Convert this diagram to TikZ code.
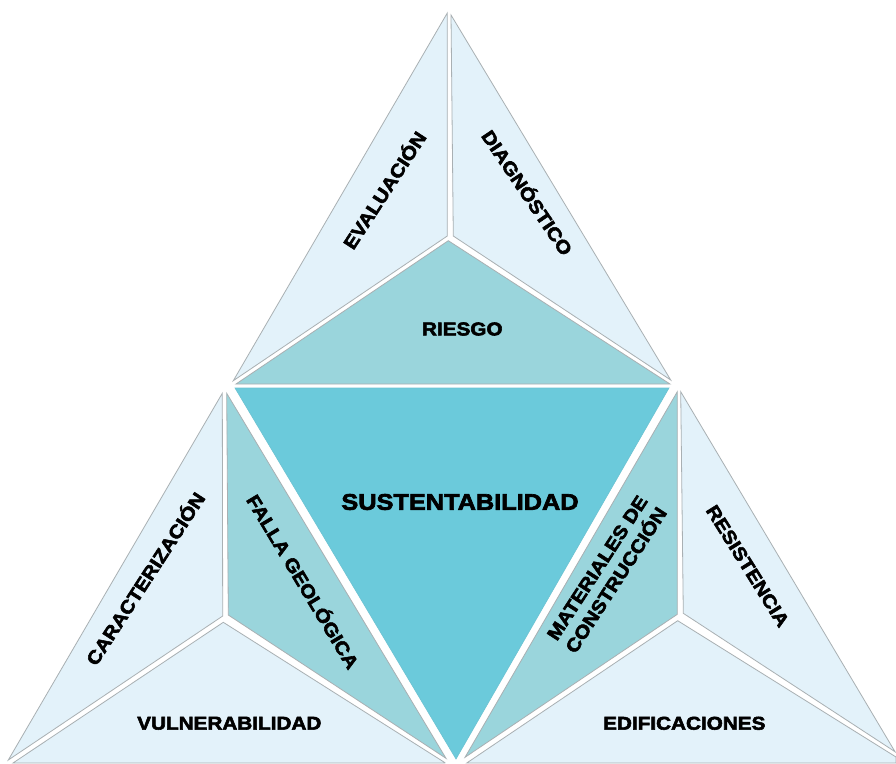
\documentclass[tikz,border=0pt]{standalone}
\usepackage{fontspec}
\setmainfont{Liberation Sans}
\newfontfamily\heavy{Liberation Sans Bold}[FakeBold=3,FakeStretch=1.12]
\definecolor{pale}{HTML}{E3F2FA}
\definecolor{mid}{HTML}{9AD5DC}
\definecolor{core}{HTML}{6BCADB}
\definecolor{edge}{HTML}{A9B0B3}
\tikzset{
  pane/.style={draw=edge,line width=0.8pt,line join=miter},
  palepane/.style={pane,fill=pale},
  midpane/.style={pane,fill=mid},
  corepane/.style={draw=core!90!gray,line width=0.6pt,fill=core},
  lbl/.style={font=\heavy\fontsize{18.5}{21}\selectfont,text=black,inner sep=0pt,align=center},
  biglbl/.style={font=\heavy\fontsize{22.6}{25}\selectfont,text=black,inner sep=0pt}
}
\begin{document}
\begin{tikzpicture}[x=1pt,y=-1pt]
\useasboundingbox (0,0) rectangle (896,763);
\fill[white] (0,0) rectangle (896,763);
% top triangle
\draw[palepane] (447.3,13) -- (447.3,236) -- (233.3,380.7) -- cycle;
\draw[palepane] (451,15) -- (453.3,236) -- (670.7,380) -- cycle;
\draw[midpane] (448.3,240.7) -- (670,384) -- (236,384) -- cycle;
% centre
\draw[corepane] (235,388) -- (669,388) -- (456,759) -- cycle;
% left triangle
\draw[palepane] (222.3,393.3) -- (222.7,616) -- (8.3,760) -- cycle;
\draw[midpane] (226.7,393.3) -- (228.3,615) -- (446,758.3) -- cycle;
\draw[palepane] (223.3,622.3) -- (445,762.7) -- (445,763) -- (13,763) -- cycle;
% right triangle
\draw[midpane] (677.3,391.7) -- (677.3,614.3) -- (465,757.3) -- cycle;
\draw[palepane] (680.7,391.7) -- (683.3,613.3) -- (895,751.7) -- cycle;
\draw[palepane] (677.7,620.7) -- (896,757) -- (896,763) -- (466.7,763) -- cycle;
% labels
\node[lbl,rotate=57] (evaluacion) at (383.5,189.5) {EVALUACIÓN};
\node[lbl,rotate=-56] (diagnostico) at (528.3,192) {DIAGNÓSTICO};
\node[lbl] (riesgo) at (462.3,329) {RIESGO};
\node[biglbl] (sustentabilidad) at (460,502) {SUSTENTABILIDAD};
\node[lbl,rotate=57] (caracterizacion) at (144.3,578) {CARACTERIZACIÓN};
\node[lbl,rotate=-59] (falla) at (304,581) {FALLA GEOLÓGICA};
\node[lbl] (vulnerabilidad) at (229.3,723.3) {VULNERABILIDAD};
\node[lbl,rotate=57] (materiales) at (606.7,574) {MATERIALES DE\\[1.5pt]CONSTRUCCIÓN};
\node[lbl,rotate=-58] (resistencia) at (747.7,566) {RESISTENCIA};
\node[lbl] (edificaciones) at (684.3,723.3) {EDIFICACIONES};
\end{tikzpicture}
\end{document}
